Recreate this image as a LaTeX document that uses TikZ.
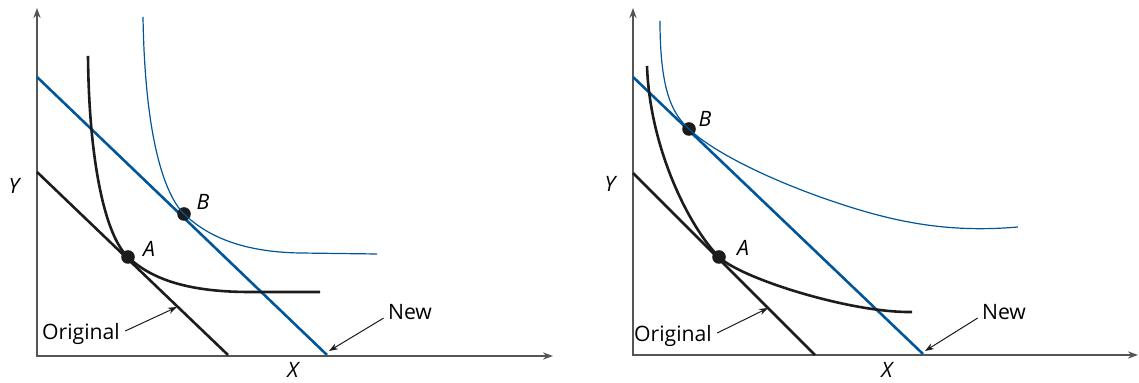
\documentclass[tikz,border=0pt]{standalone}
\usepackage{fontspec}
\setmainfont{Open Sans}
\usetikzlibrary{arrows.meta, positioning, calc}
\definecolor{budget}{RGB}{0,86,152}
\definecolor{axisgray}{RGB}{85,85,85}
\definecolor{ink}{RGB}{28,28,28}

\begin{document}
\begin{tikzpicture}[x=0.5pt, y=-0.5pt,
  axis/.style={draw=axisgray, line width=0.8pt, {Stealth[length=5pt,width=3.6pt]}-{Stealth[length=5pt,width=3.6pt]}},
  oldline/.style={draw=ink, line width=1.3pt},
  newline/.style={draw=budget, line width=1.3pt},
  oldcurve/.style={draw=ink, line width=1.3pt},
  newcurve/.style={draw=budget, line width=0.6pt},
  dot/.style={circle, fill=ink, inner sep=0pt, minimum size=6.8pt},
  lbl/.style={font=\fontsize{10.6}{12}\selectfont, inner sep=1pt},
  note/.style={draw=ink, line width=0.5pt, -{Stealth[length=4.5pt,width=3.2pt]}}]
  \useasboundingbox (0,0) rectangle (1139,383);

  % left panel: income rises
  \coordinate (O1) at (37,356);
  \coordinate (Yt1) at (37,8);
  \coordinate (Xt1) at (553,356);
  \draw[axis] (Yt1) -- (O1) -- (Xt1);
  \node[lbl] (ylab1) at (14,186) {\itshape Y};
  \node[lbl] (xlab1) at (293,370) {\itshape X};

  \coordinate (ob1) at (37,172);
  \coordinate (oe1) at (228,355);
  \coordinate (nb1) at (37,77);
  \coordinate (ne1) at (327,355);
  \draw[oldline] (ob1) -- (oe1);
  \draw[newline] (nb1) -- (ne1);

  \node[dot] (dotA1) at (128,257) {};
  \node[dot] (dotB1) at (184,214) {};
  \draw[oldcurve] (88,56) .. controls (89,165) and (106,237) .. (dotA1.center)
    .. controls (152,280) and (190,292) .. (250,292) -- (320,292);
  \draw[newcurve] (143,17) .. controls (145,140) and (165,195) .. (dotB1.center)
    .. controls (206,235) and (240,252) .. (300,253) -- (377,254);
  \node[lbl] (labA1) at (149,249) {\itshape A};
  \node[lbl] (labB1) at (203,202) {\itshape B};

  \node[lbl] (orig1) at (81,334) {Original};
  \node[lbl] (new1) at (410,312) {New};
  \coordinate (oh1) at (177,307);
  \coordinate (nh1) at (329,351);
  \draw[note] ($(orig1.east)+(3,-3)$) -- (oh1);
  \draw[note] ($(new1.south west)+(-2,-4)$) -- (nh1);

  % right panel
  \coordinate (O2) at (633,355);
  \coordinate (Yt2) at (633,8);
  \coordinate (Xt2) at (1138,355);
  \draw[axis] (Yt2) -- (O2) -- (Xt2);
  \node[lbl] (ylab2) at (610,184) {\itshape Y};
  \node[lbl] (xlab2) at (887,370) {\itshape X};

  \coordinate (ob2) at (633,173);
  \coordinate (oe2) at (815,355);
  \coordinate (nb2) at (633,77);
  \coordinate (ne2) at (923,354);
  \draw[oldline] (ob2) -- (oe2);
  \draw[newline] (nb2) -- (ne2);

  \node[dot] (dotA2) at (719,257) {};
  \node[dot] (dotB2) at (689,129) {};
  \draw[oldcurve] (647,66) .. controls (650,150) and (690,228) .. (dotA2.center)
    .. controls (740,278) and (850,313) .. (912,312);
  \draw[newcurve] (660,21) .. controls (660,95) and (674,115) .. (dotB2.center)
    .. controls (715,154) and (780,185) .. (850,207)
    .. controls (910,226) and (960,232) .. (1018,227);
  \node[lbl] (labA2) at (743,248) {\itshape A};
  \node[lbl] (labB2) at (705,119) {\itshape B};

  \node[lbl] (orig2) at (673,336) {Original};
  \node[lbl] (new2) at (1004,312) {New};
  \coordinate (oh2) at (768,308);
  \coordinate (nh2) at (925,351);
  \draw[note] ($(orig2.east)+(3,-3)$) -- (oh2);
  \draw[note] ($(new2.south west)+(-2,-4)$) -- (nh2);
\end{tikzpicture}
\end{document}
